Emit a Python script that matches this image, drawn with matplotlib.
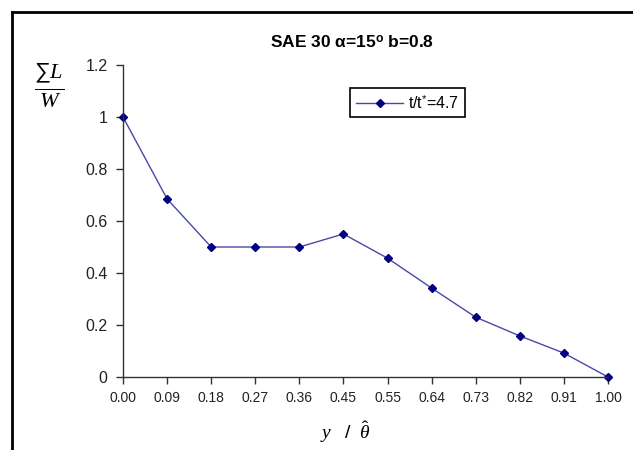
import matplotlib
matplotlib.use('Agg')
import matplotlib.pyplot as plt
from matplotlib.lines import Line2D

# data
categories = ['0.00', '0.09', '0.18', '0.27', '0.36', '0.45', '0.55', '0.64', '0.73', '0.82', '0.91', '1.00']
load_ratio = [1.0, 0.685, 0.50, 0.50, 0.50, 0.55, 0.457, 0.342, 0.23, 0.158, 0.092, 0.0]
series_label = 't/t$^{*}$=4.7'
y_ticks = [0, 0.2, 0.4, 0.6, 0.8, 1, 1.2]
y_ticklabels = ['0', '0.2', '0.4', '0.6', '0.8', '1', '1.2']

plt.rcParams['font.family'] = ['Liberation Sans', 'DejaVu Sans']
plt.rcParams['mathtext.fontset'] = 'custom'
plt.rcParams['mathtext.rm'] = 'Liberation Sans'
plt.rcParams['mathtext.bf'] = 'Liberation Sans:bold'
plt.rcParams['mathtext.it'] = 'Liberation Serif:italic'

fig = plt.figure(figsize=(6.33, 4.5), dpi=100)
ax = fig.add_axes([0.1943, 0.1622, 0.9605 - 0.1943, 0.8556 - 0.1622])

x = list(range(len(categories)))
ax.plot(x, load_ratio, color='#4848a8', lw=1.0, marker='D', markersize=4.5,
        markerfacecolor='#000080', markeredgecolor='#000080', clip_on=False,
        label=series_label)

ax.set_xlim(0, len(categories) - 1)
ax.set_ylim(0, 1.2)
ax.set_xticks(x)
ax.set_xticklabels(categories, fontsize=10, color='#222222')
ax.set_yticks(y_ticks)
ax.set_yticklabels(y_ticklabels, fontsize=11.5, color='#222222')
ax.tick_params(axis='both', direction='out', length=5, width=1, color='#333333')
ax.tick_params(axis='x', pad=5)
ax.tick_params(axis='y', pad=6)
for s in ['top', 'right']:
    ax.spines[s].set_visible(False)
for s in ['left', 'bottom']:
    ax.spines[s].set_color('#333333')
    ax.spines[s].set_linewidth(1.0)

leg = ax.legend(loc='upper left', bbox_to_anchor=(0.468, 0.926), fancybox=False,
                edgecolor='black', framealpha=1, fontsize=11.5, handlelength=3.0,
                borderaxespad=0, borderpad=0.35, handletextpad=0.3)
leg.get_frame().set_linewidth(1.2)

fig.text(0.556, 0.905, 'SAE 30 α=15$^{\\mathbf{o}}$ b=0.8', ha='center', va='center',
         fontsize=12.5, fontweight='bold')

# y label as a fraction sum L / W
fig.text(0.077, 0.81, '$\\frac{\\sum L}{W}$', ha='center', va='center', fontsize=23)
# x label
fig.text(0.546, 0.04, '$y\\ \\ \\ /\\ \\ \\hat{\\theta}$', ha='center', va='center', fontsize=14)

# outer frame (top and left edges)
fig.add_artist(Line2D([0.019, 1.0], [0.973, 0.973], transform=fig.transFigure, color='black', lw=2))
fig.add_artist(Line2D([0.019, 0.019], [0.0, 0.973], transform=fig.transFigure, color='black', lw=2))

fig.savefig('out.png', dpi=100)
